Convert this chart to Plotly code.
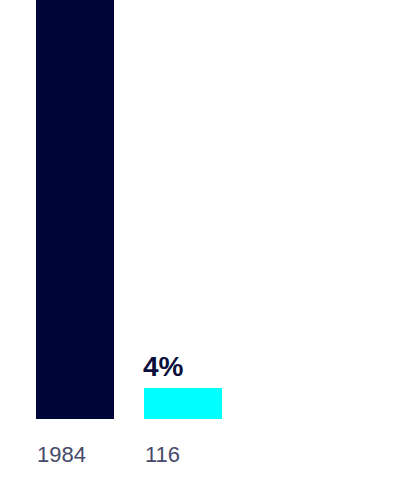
import plotly.graph_objects as go

# Data
categories = ["1984", "116"]
values = [1984, 116]
pct_labels = ["", "4%"]
colors = ["#00063a", "#00ffff"]

x_pos = [0, 1]
px_per_unit = 108.0
bar_width = 78 / px_per_unit

fig = go.Figure()
fig.add_trace(go.Bar(
    x=x_pos, y=values, width=bar_width,
    marker=dict(color=colors, line=dict(width=0)),
    hoverinfo="skip", showlegend=False,
))

for i, (c, v, p) in enumerate(zip(categories, values, pct_labels)):
    fig.add_annotation(
        x=x_pos[i] - bar_width / 2, y=0, xref="x", yref="y",
        text=c, showarrow=False, xanchor="left", yanchor="top",
        yshift=-21, xshift=-1,
        font=dict(family="Liberation Sans, Arial, sans-serif", size=22, color="#454a6a"),
    )
    if p:
        fig.add_annotation(
            x=x_pos[i] - bar_width / 2, y=v, xref="x", yref="y",
            text="<b>" + p + "</b>", showarrow=False, xanchor="left", yanchor="bottom",
            yshift=4, xshift=-3,
            font=dict(family="Liberation Sans, Arial, sans-serif", size=28, color="#0a0f3c"),
        )

plot_h = 419
fig.update_layout(
    width=400, height=500,
    margin=dict(l=0, r=0, t=0, b=500 - plot_h, pad=0),
    paper_bgcolor="white", plot_bgcolor="white",
    xaxis=dict(range=[-74.5 / px_per_unit, (400 - 74.5) / px_per_unit],
               visible=False, fixedrange=True),
    yaxis=dict(range=[0, 116 * plot_h / 31], visible=False, fixedrange=True),
    bargap=0,
)

fig.write_html("out.html", config={"displayModeBar": False},
               post_script="document.body.style.margin='0';")
